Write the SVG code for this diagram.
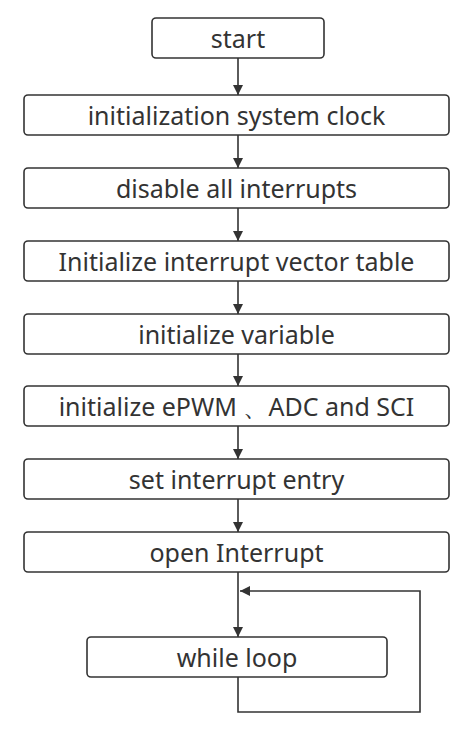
<svg xmlns="http://www.w3.org/2000/svg" width="474" height="733" viewBox="0 0 474 733">
<defs>
<marker id="ah" viewBox="0 0 10 10" refX="10" refY="5" markerWidth="11" markerHeight="10" markerUnits="userSpaceOnUse" orient="auto">
<path d="M0,0 L10,5 L0,10 z" fill="#333"/>
</marker>
<style>
.box{fill:#fff;stroke:#333;stroke-width:1.6}
.t{font-family:"Noto Sans","Open Sans",sans-serif;font-size:25px;fill:#333;text-anchor:middle;dominant-baseline:central}
.c{fill:none;stroke:#333;stroke-width:1.6}
</style>
</defs>
<rect width="474" height="733" fill="#fff"/>
<g id="connectors">
<line class="c" x1="238" y1="58" x2="238" y2="95" marker-end="url(#ah)"/>
<line class="c" x1="238" y1="135" x2="238" y2="168" marker-end="url(#ah)"/>
<line class="c" x1="238" y1="208" x2="238" y2="241" marker-end="url(#ah)"/>
<line class="c" x1="238" y1="281" x2="238" y2="314" marker-end="url(#ah)"/>
<line class="c" x1="238" y1="354" x2="238" y2="386" marker-end="url(#ah)"/>
<line class="c" x1="238" y1="426" x2="238" y2="459" marker-end="url(#ah)"/>
<line class="c" x1="238" y1="499" x2="238" y2="532" marker-end="url(#ah)"/>
<line class="c" x1="238" y1="572" x2="238" y2="637" marker-end="url(#ah)"/>
<polyline class="c" points="238,677 238,712 420,712 420,591 240,591" marker-end="url(#ah)"/>
</g>
<g id="n1"><rect class="box" x="152" y="18" width="172" height="40" rx="4"/><text class="t" x="238" y="38">start</text></g>
<g id="n2"><rect class="box" x="24" y="95" width="425" height="40" rx="4"/><text class="t" x="236.5" y="115">initialization system clock</text></g>
<g id="n3"><rect class="box" x="24" y="168" width="425" height="40" rx="4"/><text class="t" x="236.5" y="188">disable all interrupts</text></g>
<g id="n4"><rect class="box" x="24" y="241" width="425" height="40" rx="4"/><text class="t" x="236.5" y="261">Initialize interrupt vector table</text></g>
<g id="n5"><rect class="box" x="24" y="314" width="425" height="40" rx="4"/><text class="t" x="236.5" y="334">initialize variable</text></g>
<g id="n6"><rect class="box" x="24" y="386" width="425" height="40" rx="4"/><text class="t" x="236.5" y="406">initialize ePWM 、ADC and SCI</text></g>
<g id="n7"><rect class="box" x="24" y="459" width="425" height="40" rx="4"/><text class="t" x="236.5" y="479">set interrupt entry</text></g>
<g id="n8"><rect class="box" x="24" y="532" width="425" height="40" rx="4"/><text class="t" x="236.5" y="552">open Interrupt</text></g>
<g id="n9"><rect class="box" x="87" y="637" width="300" height="40" rx="4"/><text class="t" x="237" y="657">while loop</text></g>
</svg>
